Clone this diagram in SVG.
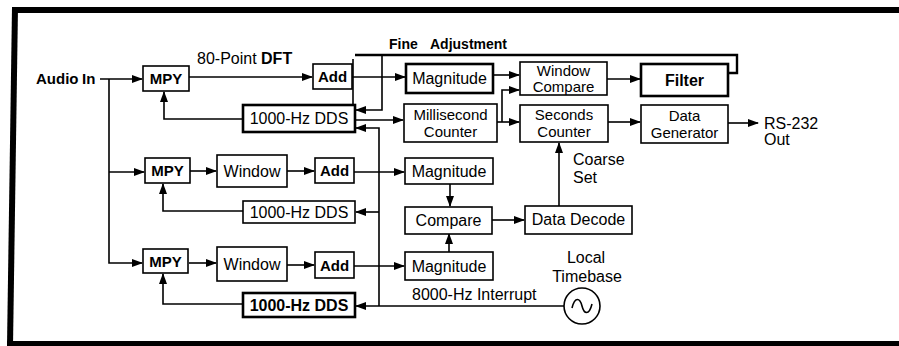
<svg xmlns="http://www.w3.org/2000/svg" width="899" height="346" viewBox="0 0 899 346">
<defs>
<marker id="ah" markerUnits="userSpaceOnUse" markerWidth="11" markerHeight="8" refX="10" refY="4" orient="auto">
<path d="M0,0 L11,4 L0,8 z" fill="#000"/>
</marker>
<style>
text{font-family:"Liberation Sans",Arial,sans-serif;font-size:16px;fill:#000;text-anchor:middle}
.b{font-weight:bold}
.l{text-anchor:start}
.s{font-size:15px}
.box{fill:#fff;stroke:#000;stroke-width:1.6}
.tk{stroke-width:2.6}
.c{fill:none;stroke:#000;stroke-width:1.6}
.a{marker-end:url(#ah)}
</style>
</defs>
<rect width="899" height="346" fill="#fff"/>
<g id="frame">
<rect x="12" y="7" width="887" height="6" fill="#000"/>
<polygon points="12,7 18,7 13,346 7,346" fill="#000"/>
<rect x="7" y="341" width="892" height="5" fill="#000"/>
</g>
<g id="connectors">
<path class="c a" d="M100,79 H142"/>
<path class="c a" d="M109,79 V263 H142"/>
<path class="c a" d="M109,172 H144"/>
<path class="c a" d="M189,77 H312"/>
<path class="c a" d="M243,119 H164 V92"/>
<path class="c a" d="M352,77 H405"/>
<path class="c" d="M353,59 V105"/>
<path class="c" d="M728,73 H737 V55 H355" style="stroke-width:2.4"/>
<path class="c a" d="M382,55 V110 H356"/>
<path class="c a" d="M355,120 H403"/>
<path class="c a" d="M379,306 V128 H356"/>
<path class="c a" d="M379,212 H356"/>
<path class="c a" d="M564,306 H356"/>
<path class="c a" d="M493,75 H519"/>
<path class="c a" d="M497,122 H519"/>
<path class="c a" d="M502,122 V90 H519"/>
<path class="c a" d="M607,79 H640"/>
<path class="c a" d="M608,122 H640"/>
<path class="c a" d="M728,123 H758"/>
<path class="c a" d="M190,171 H216"/>
<path class="c a" d="M287,171 H314"/>
<path class="c a" d="M354,172 H404"/>
<path class="c a" d="M243,211 H163 V184"/>
<path class="c a" d="M450,184 V206"/>
<path class="c a" d="M492,220 H524"/>
<path class="c a" d="M559,206 V143"/>
<path class="c a" d="M449,252 V234"/>
<path class="c a" d="M189,263 H216"/>
<path class="c a" d="M287,265 H314"/>
<path class="c a" d="M354,266 H404"/>
<path class="c a" d="M243,304 H163 V274"/>
</g>
<g id="labels">
<text class="b l s" x="36" y="84">Audio</text>
<text class="b l s" x="82" y="84">In</text>
<text class="l" x="197" y="64">80-Point <tspan class="b">DFT</tspan></text>
<text class="b l" x="389" y="49" style="font-size:14px">Fine</text>
<text class="b l" x="430" y="49" style="font-size:14px">Adjustment</text>
<text class="l" x="764" y="129">RS-232</text>
<text class="l" x="764" y="145">Out</text>
<text class="l" x="573" y="165">Coarse</text>
<text class="l" x="573" y="183">Set</text>
<text class="l" x="412" y="300">8000-Hz Interrupt</text>
<text x="586" y="263">Local</text>
<text x="587" y="282">Timebase</text>
</g>
<g id="mpy1"><rect class="box" x="143" y="66" width="46" height="25"/><text class="b s" x="166" y="84">MPY</text></g>
<g id="add1"><rect class="box" x="313" y="64" width="39" height="25"/><text class="b s" x="332.5" y="82">Add</text></g>
<g id="dds1"><rect class="box tk" x="243" y="105" width="112" height="27"/><text x="299" y="124">1000-Hz DDS</text></g>
<g id="mag1"><rect class="box tk" x="406" y="64" width="87" height="29"/><text x="449.5" y="84">Magnitude</text></g>
<g id="millisecond"><rect class="box" x="404" y="104" width="93" height="38"/><text class="s" x="450.5" y="120">Millisecond</text><text class="s" x="450.5" y="137">Counter</text></g>
<g id="wincomp"><rect class="box" x="520" y="62" width="87" height="33"/><text class="s" x="563.5" y="76">Window</text><text class="s" x="563.5" y="92">Compare</text></g>
<g id="seconds"><rect class="box" x="520" y="105" width="88" height="37"/><text class="s" x="564" y="120">Seconds</text><text class="s" x="564" y="137">Counter</text></g>
<g id="filter"><rect class="box tk" x="641" y="64" width="87" height="32"/><text class="b" x="684.5" y="86">Filter</text></g>
<g id="datagen"><rect class="box" x="641" y="105" width="87" height="38"/><text class="s" x="684.5" y="121">Data</text><text class="s" x="684.5" y="138">Generator</text></g>
<g id="mpy2"><rect class="box" x="145" y="158" width="45" height="25"/><text class="b s" x="167.5" y="176">MPY</text></g>
<g id="window2"><rect class="box" x="217" y="155" width="70" height="32"/><text x="252" y="177">Window</text></g>
<g id="add2"><rect class="box" x="315" y="158" width="39" height="25"/><text class="b s" x="334.5" y="176">Add</text></g>
<g id="dds2"><rect class="box" x="243" y="201" width="112" height="22"/><text x="299" y="218">1000-Hz DDS</text></g>
<g id="mag2"><rect class="box" x="405" y="158" width="88" height="26"/><text x="449" y="177">Magnitude</text></g>
<g id="compare"><rect class="box" x="405" y="207" width="87" height="27"/><text x="448.5" y="226">Compare</text></g>
<g id="datadecode"><rect class="box" x="525" y="206" width="107" height="28"/><text x="578.5" y="225">Data Decode</text></g>
<g id="mpy3"><rect class="box" x="143" y="249" width="45" height="24"/><text class="b s" x="165.5" y="267">MPY</text></g>
<g id="window3"><rect class="box" x="217" y="247" width="70" height="34"/><text x="252" y="270">Window</text></g>
<g id="add3"><rect class="box" x="315" y="252" width="39" height="26"/><text class="b s" x="334.5" y="271">Add</text></g>
<g id="mag3"><rect class="box" x="405" y="252" width="88" height="28"/><text x="449" y="272">Magnitude</text></g>
<g id="dds3"><rect class="box tk" x="243" y="293" width="112" height="24"/><text class="b" x="299" y="311">1000-Hz DDS</text></g>
<g id="oscillator"><circle cx="582" cy="306" r="18" fill="#fff" stroke="#000" stroke-width="1.6"/><path d="M572,308 C575,296 580,298 582,306 C584,314 589,316 592,304" fill="none" stroke="#000" stroke-width="1.6"/></g>
</svg>
